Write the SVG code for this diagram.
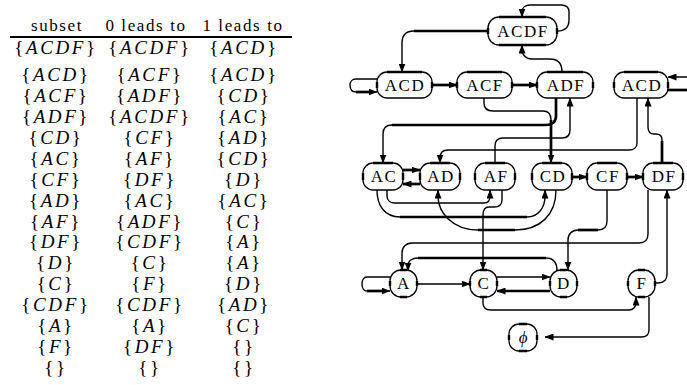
<svg xmlns="http://www.w3.org/2000/svg" width="687" height="385" viewBox="0 0 687 385">
  <style>
    .hd { font-family: "Liberation Serif", "DejaVu Serif", serif; font-size: 17px; letter-spacing: 1.6px; text-anchor: middle; fill: #000; }
    .m { font-family: "Liberation Serif", "DejaVu Serif", serif; font-size: 19px; letter-spacing: 2.6px; text-anchor: middle; fill: #000; }
    .i { font-style: italic; }
    .nb { fill: #fff; stroke: #000; stroke-width: 1.3; }
    .np { fill: none; stroke: #000; stroke-width: 2.4; }
    .lb { font-family: "Liberation Serif", "DejaVu Serif", serif; font-size: 17px; letter-spacing: 1.5px; text-anchor: middle; fill: #000; }
    .t { fill: none; stroke: #000; stroke-width: 1.4; }
    .k { fill: none; stroke: #000; stroke-width: 2.7; }
    .a { marker-end: url(#ah); }
  </style>
  <defs>
    <marker id="ah" markerUnits="userSpaceOnUse" markerWidth="9" markerHeight="7" refX="8.5" refY="3.5" orient="auto">
      <path d="M0,0 L9,3.5 L0,7 z" fill="#000"/>
    </marker>
  </defs>

  <!-- transition table -->
  <g id="table">
    <text class="hd" x="57" y="31">subset</text>
    <text class="hd" x="146" y="31">0 leads to</text>
    <text class="hd" x="243" y="31">1 leads to</text>
    <line x1="10" y1="37" x2="292" y2="37" stroke="#000" stroke-width="2.2"/>

    <text class="m" x="56" y="54">{<tspan class="i">ACDF</tspan>}</text>
    <text class="m" x="150" y="54">{<tspan class="i">ACDF</tspan>}</text>
    <text class="m" x="244" y="54">{<tspan class="i">ACD</tspan>}</text>

    <text class="m" x="56" y="81">{<tspan class="i">ACD</tspan>}</text>
    <text class="m" x="150" y="81">{<tspan class="i">ACF</tspan>}</text>
    <text class="m" x="244" y="81">{<tspan class="i">ACD</tspan>}</text>

    <text class="m" x="56" y="102">{<tspan class="i">ACF</tspan>}</text>
    <text class="m" x="150" y="102">{<tspan class="i">ADF</tspan>}</text>
    <text class="m" x="244" y="102">{<tspan class="i">CD</tspan>}</text>

    <text class="m" x="56" y="123">{<tspan class="i">ADF</tspan>}</text>
    <text class="m" x="150" y="123">{<tspan class="i">ACDF</tspan>}</text>
    <text class="m" x="244" y="123">{<tspan class="i">AC</tspan>}</text>

    <text class="m" x="56" y="144">{<tspan class="i">CD</tspan>}</text>
    <text class="m" x="150" y="144">{<tspan class="i">CF</tspan>}</text>
    <text class="m" x="244" y="144">{<tspan class="i">AD</tspan>}</text>

    <text class="m" x="56" y="165">{<tspan class="i">AC</tspan>}</text>
    <text class="m" x="150" y="165">{<tspan class="i">AF</tspan>}</text>
    <text class="m" x="244" y="165">{<tspan class="i">CD</tspan>}</text>

    <text class="m" x="56" y="186">{<tspan class="i">CF</tspan>}</text>
    <text class="m" x="150" y="186">{<tspan class="i">DF</tspan>}</text>
    <text class="m" x="244" y="186">{<tspan class="i">D</tspan>}</text>

    <text class="m" x="56" y="207">{<tspan class="i">AD</tspan>}</text>
    <text class="m" x="150" y="207">{<tspan class="i">AC</tspan>}</text>
    <text class="m" x="244" y="207">{<tspan class="i">AC</tspan>}</text>

    <text class="m" x="56" y="228">{<tspan class="i">AF</tspan>}</text>
    <text class="m" x="150" y="228">{<tspan class="i">ADF</tspan>}</text>
    <text class="m" x="244" y="228">{<tspan class="i">C</tspan>}</text>

    <text class="m" x="56" y="248">{<tspan class="i">DF</tspan>}</text>
    <text class="m" x="150" y="248">{<tspan class="i">CDF</tspan>}</text>
    <text class="m" x="244" y="248">{<tspan class="i">A</tspan>}</text>

    <text class="m" x="56" y="269">{<tspan class="i">D</tspan>}</text>
    <text class="m" x="150" y="269">{<tspan class="i">C</tspan>}</text>
    <text class="m" x="244" y="269">{<tspan class="i">A</tspan>}</text>

    <text class="m" x="56" y="290">{<tspan class="i">C</tspan>}</text>
    <text class="m" x="150" y="290">{<tspan class="i">F</tspan>}</text>
    <text class="m" x="244" y="290">{<tspan class="i">D</tspan>}</text>

    <text class="m" x="56" y="311">{<tspan class="i">CDF</tspan>}</text>
    <text class="m" x="150" y="311">{<tspan class="i">CDF</tspan>}</text>
    <text class="m" x="244" y="311">{<tspan class="i">AD</tspan>}</text>

    <text class="m" x="56" y="332">{<tspan class="i">A</tspan>}</text>
    <text class="m" x="150" y="332">{<tspan class="i">A</tspan>}</text>
    <text class="m" x="244" y="332">{<tspan class="i">C</tspan>}</text>

    <text class="m" x="56" y="353">{<tspan class="i">F</tspan>}</text>
    <text class="m" x="150" y="353">{<tspan class="i">DF</tspan>}</text>
    <text class="m" x="244" y="353">{}</text>

    <text class="m" x="56" y="374">{}</text>
    <text class="m" x="150" y="374">{}</text>
    <text class="m" x="244" y="374">{}</text>
  </g>

  <!-- connectors -->
  <g id="connectors">
    <!-- ACDF loop -->
    <path class="t a" d="M557,31 C566,31 569,27 569,20 L569,12 C569,7 566,5 561,5 L530,5 C525,5 522,8 522,12 L522,17"/>
    <!-- ACDF to ACD -->
    <path class="t a" d="M488,31 L414,31 C406,31 402,35 402,43 L402,72"/>
    <path class="k" d="M488,31 L414,31"/>
    <!-- ACD loop -->
    <path class="t a" d="M377,79 L356,79 C352,79 350,82 350,85 C350,89 352,92 356,92 L377,92"/>
    <path class="k" d="M356,92 L370,92"/>
    <!-- ACD to ACF, ACF to ADF -->
    <path class="k a" d="M432,85 L457,85"/>
    <path class="k a" d="M512,85 L537,85"/>
    <!-- ADF to ACDF -->
    <path class="t a" d="M562,72 C562,63 558,59 550,59 L532,59 C526,59 522,55 522,49 L522,45"/>
    <!-- ACF to CD -->
    <path class="t a" d="M484,98 L484,103 C484,108 487,111 493,111 L543,111 C548,111 551,114 551,120 L551,163"/>
    <path class="k" d="M551,120 L551,156"/>
    <!-- ADF to AC -->
    <path class="t a" d="M556,98 L556,116 C556,122 552,125 546,125 L392,125 C386,125 383,128 383,134 L383,163"/>
    <path class="k" d="M556,98 L556,116 C556,122 552,125 546,125 L392,125"/>
    <!-- AF to ADF -->
    <path class="t a" d="M495,163 L495,146 C495,141 498,138 503,138 L562,138 C567,138 570,135 570,130 L570,98"/>
    <!-- right ACD to AD -->
    <path class="t a" d="M637,98 L637,143 C637,147 634,150 629,150 L448,150 C443,150 440,153 440,158 L440,163"/>
    <!-- DF to right ACD -->
    <path class="t a" d="M662,163 L662,140 C662,136 660,134 656,134 L654,134 C650,134 648,131 648,127 L648,98"/>
    <path class="k" d="M662,163 L662,141"/>
    <!-- right ACD loop, leaving the frame -->
    <path class="t a" d="M668,90 L694,90 L694,77 L668,77"/>
    <path class="k" d="M668,90 L694,90"/>
    <!-- CD to CF, CF to DF -->
    <path class="k a" d="M572,177 L587,177"/>
    <path class="k a" d="M627,177 L643,177"/>
    <!-- AC / AD pair -->
    <path class="k a" d="M403,170 L420,170"/>
    <path class="k a" d="M420,184 L403,184"/>
    <!-- AC to AF -->
    <path class="t a" d="M387,190 L387,196 C387,200 390,203 395,203 L484,203 C488,203 490,200 490,196 L490,190"/>
    <!-- AC to CD -->
    <path class="t a" d="M377,190 C377,206 385,217 400,217 L527,217 C538,217 545,208 545,196 L545,190"/>
    <path class="k" d="M400,217 L527,217"/>
    <!-- CD to AD -->
    <path class="t a" d="M556,190 C556,215 540,230 515,230 L478,230 C452,230 438,212 438,196 L438,190"/>
    <path class="k" d="M478,230 L515,230"/>
    <!-- AF to C -->
    <path class="t a" d="M502,190 L502,200 C502,205 499,207 494,207 L489,207 C485,207 483,210 483,215 L483,270"/>
    <!-- CF to D -->
    <path class="t a" d="M607,190 L607,221 C607,227 604,230 598,230 L578,230 C572,230 568,234 568,240 L568,270"/>
    <path class="k" d="M598,230 L578,230"/>
    <!-- DF to A -->
    <path class="t a" d="M648,190 L648,234 C648,240 645,243 639,243 L412,243 C406,243 402,247 402,253 L402,270"/>
    <!-- F to DF -->
    <path class="t a" d="M655,283 L658,283 C664,283 667,280 667,274 L667,190"/>
    <!-- D to A -->
    <path class="t a" d="M557,271 C557,262 553,258 546,258 L418,258 C412,258 408,261 408,266 L408,271"/>
    <path class="k" d="M546,258 L418,258"/>
    <!-- A loop -->
    <path class="t a" d="M390,277 L367,277 C364,277 362,280 362,284 C362,288 364,291 367,291 L390,291"/>
    <path class="k" d="M367,291 L383,291"/>
    <!-- A to C, C to D, D to C -->
    <path class="t a" d="M417,284 L470,284"/>
    <path class="t a" d="M497,277 L550,277"/>
    <path class="k a" d="M550,291 L497,291"/>
    <!-- C to F -->
    <path class="t a" d="M483,297 L483,303 C483,308 486,310 491,310 L629,310 C633,310 636,307 636,303 L636,297"/>
    <!-- F to empty set -->
    <path class="t a" d="M649,297 L649,330 C649,335 646,337 641,337 L545,337"/>
  </g>

  <!-- states -->
  <g id="n-ACDF">
    <rect class="nb" x="488" y="17" width="69" height="28" rx="11"/>
    <path class="np" d="M499,17 H546 M499,45 H546 M488,28 V34 M557,28 V34"/>
    <text class="lb" x="523" y="37">ACDF</text>
  </g>
  <g id="n-ACD">
    <rect class="nb" x="377" y="72" width="55" height="26" rx="10"/>
    <path class="np" d="M387,72 H422 M377,82 V88 M432,82 V88"/>
    <text class="lb" x="405" y="91">ACD</text>
  </g>
  <g id="n-ACF">
    <rect class="nb" x="457" y="72" width="55" height="26" rx="10"/>
    <path class="np" d="M467,72 H502 M457,82 V88 M512,82 V88"/>
    <text class="lb" x="485" y="91">ACF</text>
  </g>
  <g id="n-ADF">
    <rect class="nb" x="537" y="72" width="56" height="26" rx="10"/>
    <path class="np" d="M547,72 H583 M537,82 V88 M593,82 V88"/>
    <text class="lb" x="566" y="91">ADF</text>
  </g>
  <g id="n-ACD-2">
    <rect class="nb" x="614" y="72" width="54" height="26" rx="10"/>
    <path class="np" d="M624,72 H658 M614,82 V88 M668,82 V88"/>
    <text class="lb" x="642" y="91">ACD</text>
  </g>
  <g id="n-AC">
    <rect class="nb" x="363" y="163" width="40" height="27" rx="10"/>
    <path class="np" d="M373,163 H393 M363,173 V180 M403,173 V180"/>
    <text class="lb" x="384" y="182">AC</text>
  </g>
  <g id="n-AD">
    <rect class="nb" x="420" y="163" width="40" height="27" rx="10"/>
    <path class="np" d="M430,163 H450 M420,173 V180 M460,173 V180"/>
    <text class="lb" x="441" y="182">AD</text>
  </g>
  <g id="n-AF">
    <rect class="nb" x="475" y="163" width="40" height="27" rx="10"/>
    <path class="np" d="M485,163 H505 M475,173 V180 M515,173 V180"/>
    <text class="lb" x="496" y="182">AF</text>
  </g>
  <g id="n-CD">
    <rect class="nb" x="532" y="163" width="40" height="27" rx="10"/>
    <path class="np" d="M542,163 H562 M532,173 V180 M572,173 V180"/>
    <text class="lb" x="553" y="182">CD</text>
  </g>
  <g id="n-CF">
    <rect class="nb" x="587" y="163" width="40" height="27" rx="10"/>
    <path class="np" d="M597,163 H617 M587,173 V180 M627,173 V180"/>
    <text class="lb" x="608" y="182">CF</text>
  </g>
  <g id="n-DF">
    <rect class="nb" x="643" y="163" width="40" height="27" rx="10"/>
    <path class="np" d="M653,163 H673 M643,173 V180 M683,173 V180"/>
    <text class="lb" x="664" y="182">DF</text>
  </g>
  <g id="n-A">
    <rect class="nb" x="390" y="270" width="27" height="27" rx="11"/>
    <path class="np" d="M400,270 H407 M400,297 H407 M390,281 V286 M417,281 V286"/>
    <text class="lb" x="404" y="289">A</text>
  </g>
  <g id="n-C">
    <rect class="nb" x="470" y="270" width="27" height="27" rx="11"/>
    <path class="np" d="M480,270 H487 M480,297 H487 M470,281 V286 M497,281 V286"/>
    <text class="lb" x="484" y="289">C</text>
  </g>
  <g id="n-D">
    <rect class="nb" x="550" y="270" width="27" height="27" rx="11"/>
    <path class="np" d="M560,270 H567 M560,297 H567 M550,281 V286 M577,281 V286"/>
    <text class="lb" x="564" y="289">D</text>
  </g>
  <g id="n-F">
    <rect class="nb" x="628" y="270" width="27" height="27" rx="11"/>
    <path class="np" d="M638,270 H645 M638,297 H645 M628,281 V286 M655,281 V286"/>
    <text class="lb" x="642" y="289">F</text>
  </g>
  <g id="n-empty">
    <rect class="nb" x="509" y="324" width="28" height="27" rx="10"/>
    <path class="np" d="M519,324 H527 M519,351 H527 M509,335 V340 M537,335 V340"/>
    <text class="lb i" x="524" y="343">ϕ</text>
  </g>
</svg>
